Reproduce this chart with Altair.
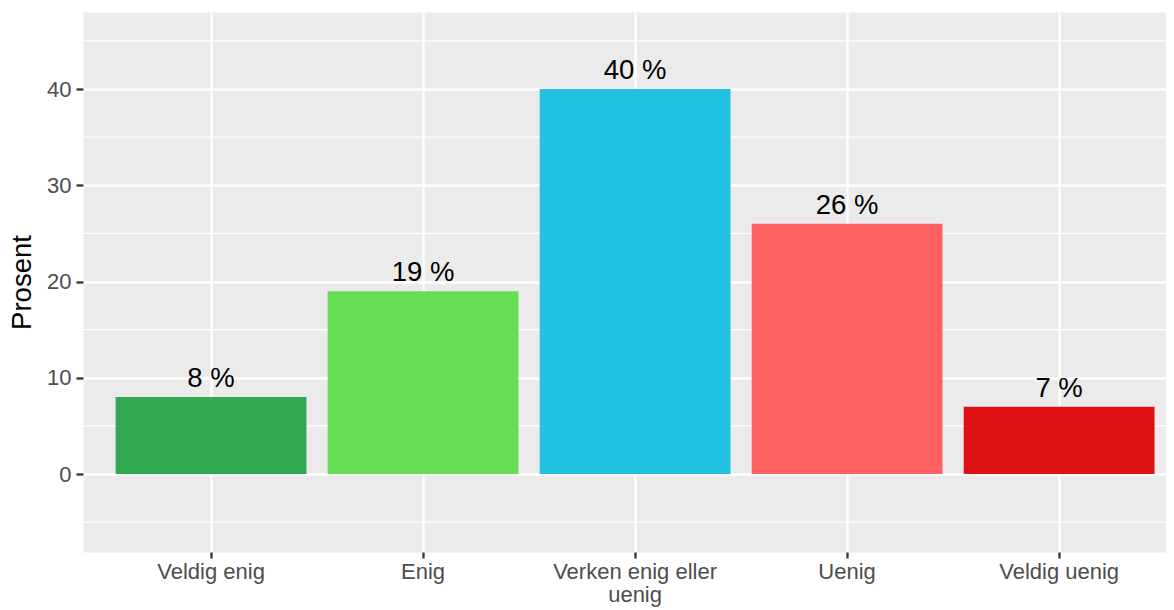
import altair as alt
import pandas as pd

categories = ["Veldig enig", "Enig", "Verken enig eller uenig", "Uenig", "Veldig uenig"]
values = [8, 19, 40, 26, 7]
colors = ["#33A852", "#66DD55", "#22C1E0", "#FF6060", "#DD1111"]
y_ticks = [0, 10, 20, 30, 40]
y_minor = [-5, 5, 15, 25, 35, 45]

df = pd.DataFrame({
    "kategori": categories,
    "prosent": values,
    "label": [f"{v} %" for v in values],
})
minor_df = pd.DataFrame({"v": y_minor})

FONT = "Liberation Sans"
y_scale = alt.Scale(domain=[-8.1, 48], nice=False, zero=False)
x_scale = alt.Scale(paddingInner=0.1, paddingOuter=0.104, align=0.74)

minor = alt.Chart(minor_df).mark_rule(color="white", strokeWidth=1.2).encode(
    y=alt.Y("v:Q", scale=y_scale)
)

bars = alt.Chart(df).mark_bar().encode(
    x=alt.X(
        "kategori:N",
        sort=categories,
        scale=x_scale,
        axis=alt.Axis(
            title=None,
            labelAngle=0,
            bandPosition=0.5,
            grid=True,
            gridColor="white",
            gridWidth=2.3,
            domain=False,
            tickColor="#333333",
            tickWidth=2.3,
            tickSize=6,
            labelPadding=3,
            labelFont=FONT,
            labelFontSize=22,
            labelColor="#4D4D4D",
            labelLineHeight=23,
            labelExpr="datum.value == 'Verken enig eller uenig' ? ['Verken enig eller', 'uenig'] : datum.value",
        ),
    ),
    y=alt.Y(
        "prosent:Q",
        scale=y_scale,
        axis=alt.Axis(
            title="Prosent",
            values=y_ticks,
            grid=True,
            gridColor="white",
            gridWidth=2.3,
            domain=False,
            tickColor="#333333",
            tickWidth=2.3,
            tickSize=7,
            labelPadding=5,
            labelFont=FONT,
            labelFontSize=22,
            labelColor="#4D4D4D",
            titleFont=FONT,
            titleFontSize=27.5,
            titleFontWeight="normal",
            titleColor="black",
            titlePadding=10,
        ),
    ),
    color=alt.Color("kategori:N", scale=alt.Scale(domain=categories, range=colors), legend=None),
)

text = alt.Chart(df).mark_text(
    dy=-10, baseline="alphabetic", font=FONT, fontSize=27.5, color="black"
).encode(
    x=alt.X("kategori:N", sort=categories, scale=x_scale),
    y=alt.Y("prosent:Q", scale=y_scale),
    text="label:N",
)

chart = alt.layer(minor, bars, text).properties(
    width=1083,
    height=540,
    padding={"left": 75, "top": 4, "right": 0, "bottom": 58},
    autosize="none",
).configure_view(fill="#EBEBEB", stroke="transparent")

chart.save("out.html", embed_options={"renderer": "svg", "actions": False})
